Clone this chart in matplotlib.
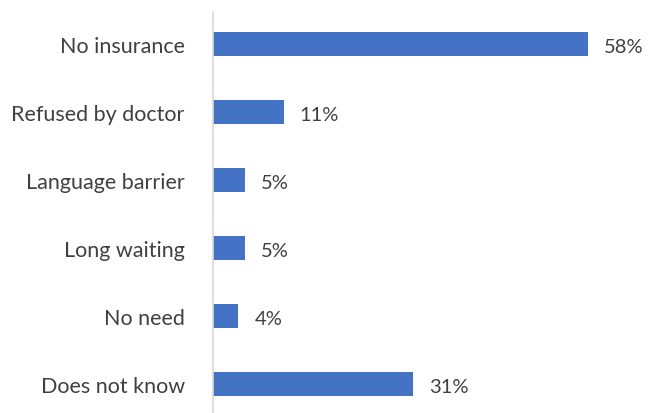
import matplotlib.pyplot as plt

categories = ["No insurance", "Refused by doctor", "Language barrier",
              "Long waiting", "No need", "Does not know"]
values = [58, 11, 5, 5, 4, 31]
value_labels = ["58%", "11%", "5%", "5%", "4%", "31%"]

plt.rcParams['font.family'] = ['Lato', 'DejaVu Sans']

W, H = 650, 414
fig = plt.figure(figsize=(6.5, 4.14), dpi=100)
ax = fig.add_axes([212.5 / W, 0, 1 - 212.5 / W, (H - 13) / H])

pos = list(range(len(categories)))
ax.barh(pos, values, height=24 / 68, color="#4472C4", left=0)

for p, v, lab in zip(pos, values, value_labels):
    ax.text(v + 16 / 6.48, p + 0.03, lab, va="center", ha="left",
            fontsize=14.5, color="#404040")

ax.set_ylim(5.897 - 0.47, -0.47)
ax.set_xlim(0, (W - 212.5) / 6.48)
ax.set_yticks(pos)
ax.set_yticklabels(categories, fontsize=15.5, color="#404040")
ax.tick_params(axis="y", length=0, pad=20)
ax.set_xticks([])
for s in ["top", "right", "bottom"]:
    ax.spines[s].set_visible(False)
ax.spines["left"].set_color("#D9D9D9")
ax.spines["left"].set_linewidth(1.2)

fig.savefig("out.png", dpi=100)
